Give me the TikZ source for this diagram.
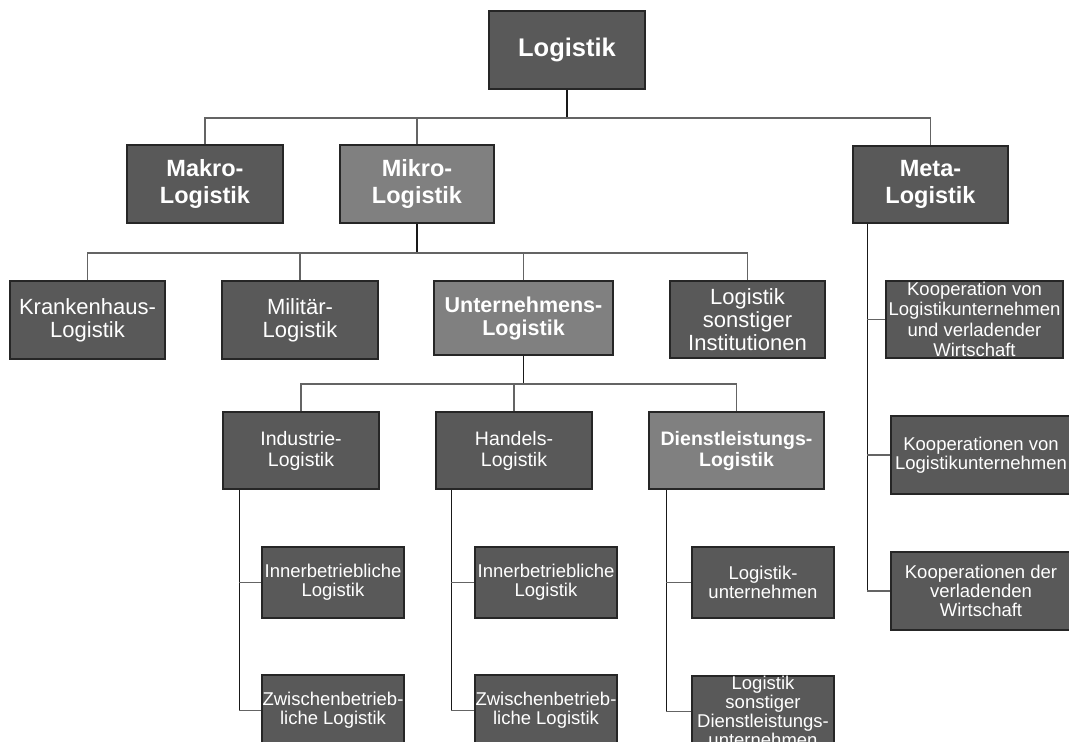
\documentclass[tikz,border=0pt]{standalone}
\usepackage{fontspec}
\setmainfont{Liberation Sans}
\begin{document}
\begin{tikzpicture}[x=1pt,y=-1pt,
  every node/.style={inner sep=0pt, align=center, text=white},
  dark/.style={draw=black!85, line width=1.1pt, fill={rgb,255:red,89;green,89;blue,89}},
  light/.style={draw=black!85, line width=1.1pt, fill={rgb,255:red,128;green,128;blue,128}},
  ftop/.style={font=\fontsize{25.5}{27}\selectfont\bfseries},
  fbig/.style={font=\fontsize{23.5}{27}\selectfont\bfseries},
  fmid/.style={font=\fontsize{22}{23}\selectfont},
  fmidb/.style={font=\fontsize{21.5}{23}\selectfont\bfseries},
  fsub/.style={font=\fontsize{19.5}{21}\selectfont},
  fsubb/.style={font=\fontsize{19.5}{21}\selectfont\bfseries},
  fleaf/.style={font=\fontsize{18.5}{19}\selectfont},
  drop/.style={draw=black!90, line width=1.6pt},
  bus/.style={draw={rgb,255:red,100;green,100;blue,100}, line width=1.9pt}]

\useasboundingbox[fill=white] (0,0) rectangle (1069,742);

% top level
\node[dark, ftop, minimum width=156pt, minimum height=78pt] (top) at (567,50) {Logistik};

% second level
\node[dark, fbig, minimum width=156pt, minimum height=78pt] (makro) at (205,184) {Makro-\\Logistik};
\node[light, fbig, minimum width=154pt, minimum height=78pt] (mikro) at (417,184) {Mikro-\\Logistik};
\node[dark, fbig, minimum width=155pt, minimum height=77pt] (meta) at (930.5,184.5) {Meta-\\Logistik};

% third level (Mikro-Logistik)
\node[dark, fmid, minimum width=155pt, minimum height=78pt] (kranken) at (87.5,320) {Krankenhaus-\\Logistik};
\node[dark, fmid, minimum width=156pt, minimum height=78pt] (militaer) at (300,320) {Militär-\\Logistik};
\node[light, fmidb, minimum width=179pt, minimum height=74pt] (unternehmen) at (523.5,318) {Unternehmens-\\Logistik};
\node[dark, fmid, minimum width=155pt, minimum height=77pt] (sonstige) at (747.5,319.5) {Logistik\\sonstiger\\Institutionen};

% fourth level (Unternehmens-Logistik)
\node[dark, fsub, minimum width=156pt, minimum height=77pt] (industrie) at (301,450.5) {Industrie-\\Logistik};
\node[dark, fsub, minimum width=156pt, minimum height=77pt] (handel) at (514,450.5) {Handels-\\Logistik};
\node[light, fsubb, minimum width=175pt, minimum height=77pt] (dienst) at (736.5,450.5) {Dienstleistungs-\\Logistik};

% leaves
\node[dark, fleaf, minimum width=142pt, minimum height=71pt] (ind1) at (333,582.5) {Innerbetriebliche\\Logistik};
\node[dark, fleaf, minimum width=142pt, minimum height=71pt] (ind2) at (333,710.5) {Zwischenbetrieb-\\liche Logistik};
\node[dark, fleaf, minimum width=142pt, minimum height=71pt] (han1) at (546,582.5) {Innerbetriebliche\\Logistik};
\node[dark, fleaf, minimum width=142pt, minimum height=71pt] (han2) at (546,710.5) {Zwischenbetrieb-\\liche Logistik};
\node[dark, fleaf, minimum width=142pt, minimum height=71pt] (die1) at (763,582.5) {Logistik-\\unternehmen};
\node[dark, fleaf, minimum width=142pt, minimum height=71pt] (die2) at (763,711.5) {Logistik\\sonstiger\\Dienstleistungs-\\unternehmen};

% Meta-Logistik leaves
\node[dark, fleaf, font=\fontsize{18.5}{20.5}\selectfont, minimum width=177pt, minimum height=77pt] (koop1) at (974.5,319.5) {Kooperation von\\Logistikunternehmen\\und verladender\\Wirtschaft};
\node[dark, fleaf, minimum width=180pt, minimum height=78pt] (koop2) at (981,455) {Kooperationen von\\Logistikunternehmen};
\node[dark, fleaf, minimum width=180pt, minimum height=78pt] (koop3) at (981,591) {Kooperationen der\\verladenden\\Wirtschaft};

% connectors below Logistik
\draw[drop] (top.south) -- ++(0,28) coordinate (b1);
\draw[bus] (makro.north) |- (meta.north |- b1) -- (meta.north);
\draw[bus] (mikro.north) -- (mikro.north |- b1);

% connectors below Mikro-Logistik
\draw[drop] (mikro.south) -- ++(0,29) coordinate (b2);
\draw[bus] (kranken.north) |- (sonstige.north |- b2) -- (sonstige.north);
\draw[bus] (militaer.north) -- (militaer.north |- b2);
\draw[bus] (unternehmen.north) -- (unternehmen.north |- b2);

% connectors below Unternehmens-Logistik
\draw[drop] (unternehmen.south) -- ++(0,28) coordinate (b3);
\draw[bus] (industrie.north) |- (dienst.north |- b3) -- (dienst.north);
\draw[bus] (handel.north) -- (handel.north |- b3);

% side branches
\coordinate (s1) at ([xshift=17pt]industrie.south west);
\draw[drop] (s1) -- (s1 |- ind2.west);
\draw[bus] (s1 |- ind1.west) -- (ind1.west);
\draw[bus] (s1 |- ind2.west) -- (ind2.west);

\coordinate (s2) at ([xshift=16pt]handel.south west);
\draw[drop] (s2) -- (s2 |- han2.west);
\draw[bus] (s2 |- han1.west) -- (han1.west);
\draw[bus] (s2 |- han2.west) -- (han2.west);

\coordinate (s3) at ([xshift=18pt]dienst.south west);
\draw[drop] (s3) -- (s3 |- die2.west);
\draw[bus] (s3 |- die1.west) -- (die1.west);
\draw[bus] (s3 |- die2.west) -- (die2.west);

\coordinate (s4) at ([xshift=15pt]meta.south west);
\draw[drop] (s4) -- (s4 |- koop3.west);
\draw[bus] (s4 |- koop1.west) -- (koop1.west);
\draw[bus] (s4 |- koop2.west) -- (koop2.west);
\draw[bus] (s4 |- koop3.west) -- (koop3.west);
\end{tikzpicture}
\end{document}
